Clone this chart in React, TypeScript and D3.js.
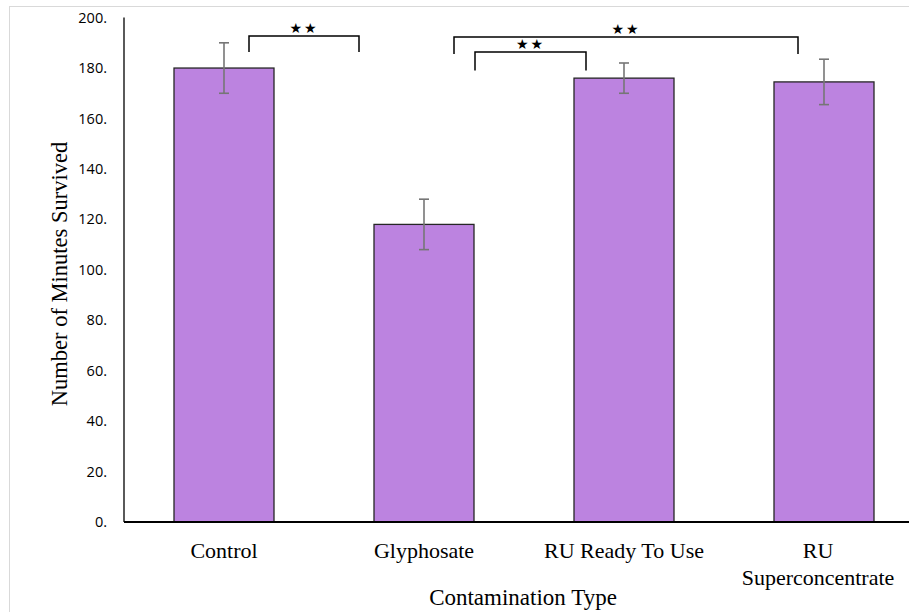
import React from 'react';
import * as d3 from 'd3';

const categories = ['Control', 'Glyphosate', 'RU Ready To Use', 'RU Superconcentrate'];
const labelLines = [['Control'], ['Glyphosate'], ['RU Ready To Use'], ['RU', 'Superconcentrate']];
const minutes = [180, 118, 176, 174.5];
const errors = [10, 10, 6, 9];
const yTicks = [0, 20, 40, 60, 80, 100, 120, 140, 160, 180, 200];

// significance brackets: from/to category, horizontal offsets, bracket level and leg level (minutes)
const brackets = [
  { from: 0, to: 1, dx0: 25, dx1: -65, top: 192.7, leg: 186.4 },
  { from: 1, to: 2, dx0: 51, dx1: -38, top: 186.4, leg: 179 },
  { from: 1, to: 3, dx0: 30, dx1: -26, top: 192.3, leg: 185.6 },
];

const width = 909;
const height = 612;
const margin = { l: 124, t: 18, b: 90 };

export default function App() {
  const x = d3.scaleBand<number>().domain(d3.range(categories.length)).range([margin.l, margin.l + 800]).padding(0.5).paddingOuter(0.25);
  const y = d3.scaleLinear().domain([0, 200]).range([522, 17.6]);
  const bw = x.bandwidth();
  const cx = (i: number) => (x(i) as number) + bw / 2;

  return (
    <svg width={width} height={height} style={{ position: 'absolute', left: 0, top: 0, background: '#fff' }}>
      <rect x={9.5} y={6.5} width={width + 10} height={height + 10} fill="none" stroke="#d9d9d9" />
      {/* y ticks */}
      {yTicks.map((t) => (
        <text key={t} x={107} y={y(t)} dy="0.35em" textAnchor="end" fontFamily="'Open Sans', sans-serif" fontSize={14.5} fill="#000">
          {`${t}.`}
        </text>
      ))}
      {/* bars */}
      {minutes.map((v, i) => (
        <rect key={i} x={x(i)} y={y(v)} width={bw} height={y(0) - y(v)} fill="#BC83E0" stroke="#262626" strokeWidth={1.3} />
      ))}
      {/* error bars */}
      {minutes.map((v, i) => (
        <g key={i} stroke="#767676" strokeWidth={1.6}>
          <line x1={cx(i)} x2={cx(i)} y1={y(v + errors[i])} y2={y(v - errors[i])} />
          <line x1={cx(i) - 5} x2={cx(i) + 5} y1={y(v + errors[i])} y2={y(v + errors[i])} />
          <line x1={cx(i) - 5} x2={cx(i) + 5} y1={y(v - errors[i])} y2={y(v - errors[i])} />
        </g>
      ))}
      {/* axes */}
      <line x1={margin.l} x2={margin.l} y1={y(200)} y2={y(0)} stroke="#000" strokeWidth={1.3} />
      <line x1={margin.l} x2={width} y1={y(0)} y2={y(0)} stroke="#000" strokeWidth={2} />
      {/* brackets */}
      {brackets.map((b, i) => {
        const x0 = cx(b.from) + b.dx0;
        const x1 = cx(b.to) + b.dx1;
        return (
          <g key={i}>
            <path d={`M${x0},${y(b.leg)}V${y(b.top)}H${x1}V${y(b.leg)}`} fill="none" stroke="#000" strokeWidth={1.5} />
            <text x={(x0 + x1) / 2} y={y(b.top) - 3} textAnchor="middle" fontFamily="'DejaVu Sans', sans-serif" fontSize={14} letterSpacing={2} fill="#000">
              ★★
            </text>
          </g>
        );
      })}
      {/* x labels */}
      {labelLines.map((lines, i) => (
        <text key={i} x={cx(i) - (lines.length > 1 ? 6 : 0)} y={558} textAnchor="middle" fontFamily="'Liberation Serif', serif" fontSize={22} fill="#000">
          {lines.map((l, j) => (
            <tspan key={j} x={cx(i) - (lines.length > 1 ? 6 : 0)} dy={j === 0 ? 0 : 27}>{l}</tspan>
          ))}
        </text>
      ))}
      <text x={523} y={605} textAnchor="middle" fontFamily="'Liberation Serif', serif" fontSize={23} fill="#000">
        Contamination Type
      </text>
      <text transform="translate(67,274) rotate(-90)" textAnchor="middle" fontFamily="'Liberation Serif', serif" fontSize={22.5} fill="#000">
        Number of Minutes Survived
      </text>
    </svg>
  );
}
